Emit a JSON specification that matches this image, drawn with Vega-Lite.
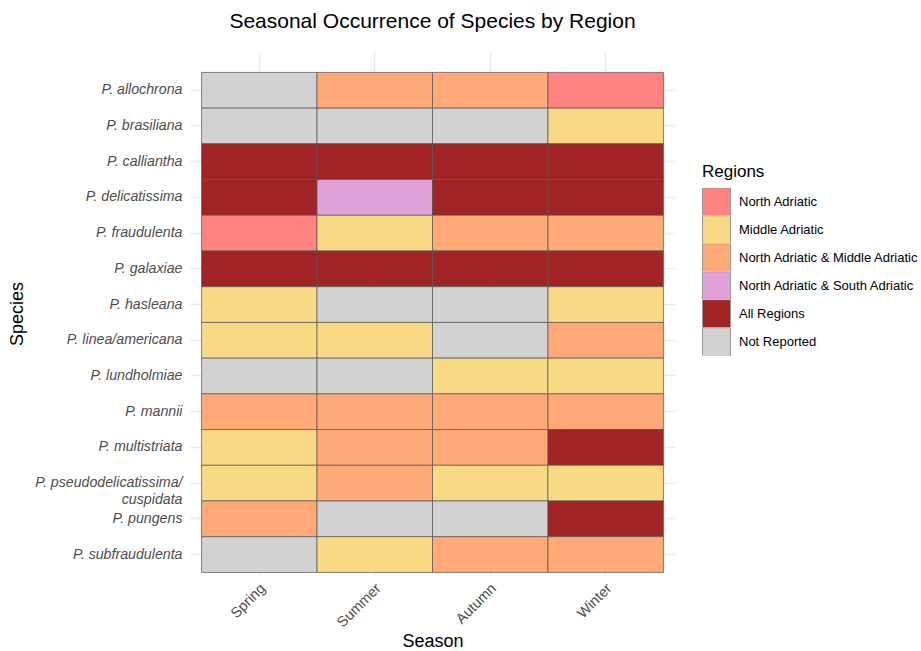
{
  "$schema": "https://vega.github.io/schema/vega-lite/v6.json",
  "autosize": "none",
  "width": 485,
  "height": 525,
  "padding": {"left": 190, "top": 51, "right": 246, "bottom": 75},
  "background": "white",
  "title": {"text": "Seasonal Occurrence of Species by Region", "fontSize": 21, "font": "Liberation Sans", "fontWeight": "normal", "color": "#000000", "offset": 19},
  "config": {
    "view": {"stroke": null},
    "font": "Liberation Sans"
  },
  "data": {"values": [
    {"species": "P. allochrona", "season": "Spring", "region": "Not Reported"},
    {"species": "P. allochrona", "season": "Summer", "region": "North Adriatic & Middle Adriatic"},
    {"species": "P. allochrona", "season": "Autumn", "region": "North Adriatic & Middle Adriatic"},
    {"species": "P. allochrona", "season": "Winter", "region": "North Adriatic"},
    {"species": "P. brasiliana", "season": "Spring", "region": "Not Reported"},
    {"species": "P. brasiliana", "season": "Summer", "region": "Not Reported"},
    {"species": "P. brasiliana", "season": "Autumn", "region": "Not Reported"},
    {"species": "P. brasiliana", "season": "Winter", "region": "Middle Adriatic"},
    {"species": "P. calliantha", "season": "Spring", "region": "All Regions"},
    {"species": "P. calliantha", "season": "Summer", "region": "All Regions"},
    {"species": "P. calliantha", "season": "Autumn", "region": "All Regions"},
    {"species": "P. calliantha", "season": "Winter", "region": "All Regions"},
    {"species": "P. delicatissima", "season": "Spring", "region": "All Regions"},
    {"species": "P. delicatissima", "season": "Summer", "region": "North Adriatic & South Adriatic"},
    {"species": "P. delicatissima", "season": "Autumn", "region": "All Regions"},
    {"species": "P. delicatissima", "season": "Winter", "region": "All Regions"},
    {"species": "P. fraudulenta", "season": "Spring", "region": "North Adriatic"},
    {"species": "P. fraudulenta", "season": "Summer", "region": "Middle Adriatic"},
    {"species": "P. fraudulenta", "season": "Autumn", "region": "North Adriatic & Middle Adriatic"},
    {"species": "P. fraudulenta", "season": "Winter", "region": "North Adriatic & Middle Adriatic"},
    {"species": "P. galaxiae", "season": "Spring", "region": "All Regions"},
    {"species": "P. galaxiae", "season": "Summer", "region": "All Regions"},
    {"species": "P. galaxiae", "season": "Autumn", "region": "All Regions"},
    {"species": "P. galaxiae", "season": "Winter", "region": "All Regions"},
    {"species": "P. hasleana", "season": "Spring", "region": "Middle Adriatic"},
    {"species": "P. hasleana", "season": "Summer", "region": "Not Reported"},
    {"species": "P. hasleana", "season": "Autumn", "region": "Not Reported"},
    {"species": "P. hasleana", "season": "Winter", "region": "Middle Adriatic"},
    {"species": "P. linea/americana", "season": "Spring", "region": "Middle Adriatic"},
    {"species": "P. linea/americana", "season": "Summer", "region": "Middle Adriatic"},
    {"species": "P. linea/americana", "season": "Autumn", "region": "Not Reported"},
    {"species": "P. linea/americana", "season": "Winter", "region": "North Adriatic & Middle Adriatic"},
    {"species": "P. lundholmiae", "season": "Spring", "region": "Not Reported"},
    {"species": "P. lundholmiae", "season": "Summer", "region": "Not Reported"},
    {"species": "P. lundholmiae", "season": "Autumn", "region": "Middle Adriatic"},
    {"species": "P. lundholmiae", "season": "Winter", "region": "Middle Adriatic"},
    {"species": "P. mannii", "season": "Spring", "region": "North Adriatic & Middle Adriatic"},
    {"species": "P. mannii", "season": "Summer", "region": "North Adriatic & Middle Adriatic"},
    {"species": "P. mannii", "season": "Autumn", "region": "North Adriatic & Middle Adriatic"},
    {"species": "P. mannii", "season": "Winter", "region": "North Adriatic & Middle Adriatic"},
    {"species": "P. multistriata", "season": "Spring", "region": "Middle Adriatic"},
    {"species": "P. multistriata", "season": "Summer", "region": "North Adriatic & Middle Adriatic"},
    {"species": "P. multistriata", "season": "Autumn", "region": "North Adriatic & Middle Adriatic"},
    {"species": "P. multistriata", "season": "Winter", "region": "All Regions"},
    {"species": "P. pseudodelicatissima/|cuspidata", "season": "Spring", "region": "Middle Adriatic"},
    {"species": "P. pseudodelicatissima/|cuspidata", "season": "Summer", "region": "North Adriatic & Middle Adriatic"},
    {"species": "P. pseudodelicatissima/|cuspidata", "season": "Autumn", "region": "Middle Adriatic"},
    {"species": "P. pseudodelicatissima/|cuspidata", "season": "Winter", "region": "Middle Adriatic"},
    {"species": "P. pungens", "season": "Spring", "region": "North Adriatic & Middle Adriatic"},
    {"species": "P. pungens", "season": "Summer", "region": "Not Reported"},
    {"species": "P. pungens", "season": "Autumn", "region": "Not Reported"},
    {"species": "P. pungens", "season": "Winter", "region": "All Regions"},
    {"species": "P. subfraudulenta", "season": "Spring", "region": "Not Reported"},
    {"species": "P. subfraudulenta", "season": "Summer", "region": "Middle Adriatic"},
    {"species": "P. subfraudulenta", "season": "Autumn", "region": "North Adriatic & Middle Adriatic"},
    {"species": "P. subfraudulenta", "season": "Winter", "region": "North Adriatic & Middle Adriatic"}
  ]},
  "mark": {"type": "rect", "stroke": "#555555", "strokeWidth": 0.7},
  "encoding": {
    "x": {
      "field": "season", "type": "nominal",
      "sort": ["Spring", "Summer", "Autumn", "Winter"],
      "scale": {"paddingInner": 0, "paddingOuter": 0.1},
      "axis": {
        "title": "Season", "titleFontSize": 18, "titleFontWeight": "normal", "titleColor": "#000000", "titlePadding": 3,
        "labelAngle": -45, "labelAlign": "right", "labelBaseline": "middle", "labelFontSize": 14.5, "labelColor": "#4D4D4D",
        "labelPadding": 10, "labelOffset": 4,
        "ticks": false, "domain": false, "grid": true, "bandPosition": 0.5, "gridColor": "#EBEBEB", "gridWidth": 1.5, "zindex": 0
      }
    },
    "y": {
      "field": "species", "type": "nominal",
      "sort": null,
      "scale": {"paddingInner": 0, "paddingOuter": 0.35, "align": 0.857},
      "axis": {
        "title": "Species", "titleFontSize": 18, "titleFontWeight": "normal", "titleColor": "#000000", "titlePadding": 8,
        "labelFontSize": 14.2, "labelFontStyle": "italic", "labelColor": "#4D4D4D", "labelPadding": 8, "labelLineHeight": 17,
        "labelExpr": "split(datum.label, '|')",
        "ticks": false, "domain": false, "grid": true, "bandPosition": 0.5, "gridColor": "#EBEBEB", "gridWidth": 1.5, "zindex": 0
      }
    },
    "fill": {
      "field": "region", "type": "nominal",
      "scale": {
        "domain": ["North Adriatic", "Middle Adriatic", "North Adriatic & Middle Adriatic", "North Adriatic & South Adriatic", "All Regions", "Not Reported"],
        "range": ["#FF8380", "#F8D984", "#FFA878", "#DFA1D8", "#A02425", "#D2D2D2"]
      },
      "legend": {
        "title": "Regions", "titleFontSize": 17, "titleFontWeight": "normal", "titleColor": "#000000", "titlePadding": 7,
        "orient": "none", "legendX": 512, "legendY": 113,
        "symbolType": "square", "symbolSize": 784, "symbolStrokeColor": "#999999", "symbolStrokeWidth": 1, "symbolOpacity": 1,
        "clipHeight": 27.4,
        "labelFontSize": 13, "labelColor": "#000000", "labelOffset": 8, "labelLimit": 400, "rowPadding": 0, "padding": 0
      }
    }
  }
}
